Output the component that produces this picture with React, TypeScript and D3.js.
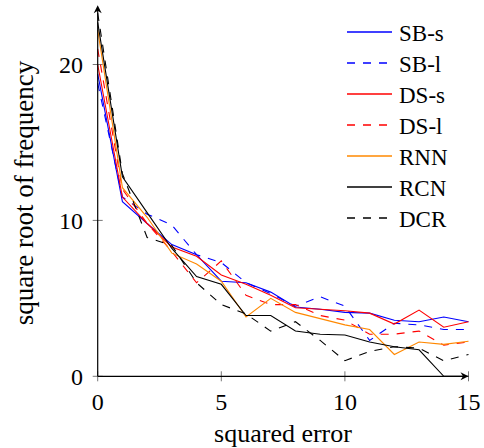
import React, { useEffect, useRef } from "react";
import * as d3 from "d3";

const xs = d3.range(0, 16);
const seriesNames = ["SB-s", "SB-l", "DS-s", "DS-l", "RNN", "RCN", "DCR"];
const sbS = [19.4, 11.2, 9.8, 8.45, 7.8, 6.1, 6.0, 5.4, 4.45, 4.3, 4.1, 4.05, 3.6, 3.5, 3.8, 3.5];
const sbL = [18.8, 11.5, 10.4, 9.7, 7.8, 7.3, 6.0, 5.3, 4.5, 5.1, 4.5, 2.3, 3.4, 3.3, 3.0, 3.0];
const dsS = [20.0, 11.5, 9.8, 8.3, 7.7, 6.5, 5.9, 5.2, 4.4, 4.3, 4.2, 4.05, 3.35, 4.25, 3.15, 3.5];
const dsL = [21.0, 12.0, 9.8, 8.0, 6.0, 7.4, 5.2, 4.6, 4.6, 3.9, 3.6, 2.7, 2.7, 2.9, 2.0, 2.2];
const rnn = [22.2, 12.1, 10.2, 7.9, 7.2, 6.1, 3.8, 5.0, 4.1, 3.7, 3.3, 3.0, 1.4, 2.2, 2.05, 2.25];
const rcn = [22.7, 12.8, 10.5, 8.2, 6.4, 5.9, 3.9, 3.9, 2.9, 2.7, 2.65, 2.2, 1.9, 1.7, 0, 0];
const dcr = [23.3, 13.0, 8.9, 8.4, 6.0, 4.6, 4.0, 2.9, 3.5, 2.3, 1.0, 1.6, 1.9, 1.8, 1.0, 1.4];
const xTicks = [0, 5, 10, 15];
const yTicks = [0, 10, 20];

const seriesValues = [sbS, sbL, dsS, dsL, rnn, rcn, dcr];
const colors = ["#0000ff", "#0000ff", "#ff0000", "#ff0000", "#ff8800", "#000000", "#000000"];
const dashed = [false, true, false, true, false, false, true];

const F = "Liberation Serif";

export default function App() {
  const ref = useRef<SVGSVGElement>(null);
  const W = 484, H = 448;
  const x = d3.scaleLinear().domain([0, 15]).range([97.7, 468.5]);
  const y = d3.scaleLinear().domain([0, 20]).range([376.3, 64.5]);
  const yTop = y(23.8);
  const line = d3
    .line<number>()
    .x((_, i) => x(xs[i]))
    .y((d) => y(d));

  useEffect(() => {
    if (!ref.current) return;
    d3.select(ref.current)
      .selectAll("text")
      .each(function () {
        (this as SVGTextElement).style.setProperty("font-family", F, "important");
      });
  }, []);

  const arrow = (tx: number, ty: number, dir: "right" | "up") => {
    if (dir === "right")
      return `M${tx},${ty} L${tx - 8},${ty - 4} L${tx - 5.5},${ty} L${tx - 8},${ty + 4} Z`;
    return `M${tx},${ty} L${tx - 4},${ty + 8} L${tx},${ty + 5.5} L${tx + 4},${ty + 8} Z`;
  };

  const legendY0 = 32;
  const legendStep = 31;

  return (
    <svg ref={ref} width={W} height={H} style={{ position: "absolute", left: 0, top: 0 }}>
      {xTicks.map((t) => (
        <line key={"xt" + t} x1={x(t)} x2={x(t)} y1={y(0) - 5} y2={y(0) + 5} stroke="#777" strokeWidth={1} />
      ))}
      {yTicks.map((t) => (
        <line key={"yt" + t} x1={x(0) - 5} x2={x(0) + 5} y1={y(t)} y2={y(t)} stroke="#777" strokeWidth={1} />
      ))}
      {seriesValues.map((vals, i) => (
        <path
          key={seriesNames[i]}
          d={line(vals) || ""}
          fill="none"
          stroke={colors[i]}
          strokeWidth={1.1}
          strokeDasharray={dashed[i] ? "8,8" : undefined}
        />
      ))}
      <line x1={x(0)} x2={x(15) - 4} y1={y(0)} y2={y(0)} stroke="#000" strokeWidth={1.2} />
      <line x1={x(0)} x2={x(0)} y1={y(0)} y2={yTop + 4} stroke="#000" strokeWidth={1.2} />
      <path d={arrow(x(15), y(0), "right")} fill="#000" />
      <path d={arrow(x(0), yTop, "up")} fill="#000" />
      {xTicks.map((t) => (
        <text key={"xl" + t} x={x(t)} y={410} fontSize={24} textAnchor="middle" fontFamily={F}>
          {String(t)}
        </text>
      ))}
      {yTicks.map((t) => (
        <text key={"yl" + t} x={83} y={y(t) + 8.5} fontSize={24} textAnchor="end" fontFamily={F}>
          {String(t)}
        </text>
      ))}
      <text x={283} y={441.5} fontSize={26} textAnchor="middle" fontFamily={F}>
        squared error
      </text>
      <text transform="translate(33,193) rotate(-90)" fontSize={27} textAnchor="middle" fontFamily={F}>
        square root of frequency
      </text>
      {seriesNames.map((name, i) => {
        const cy = legendY0 + i * legendStep;
        return (
          <g key={"lg" + name}>
            <line
              x1={347}
              x2={dashed[i] ? 388 : 392}
              y1={cy}
              y2={cy}
              stroke={colors[i]}
              strokeWidth={1.3}
              strokeDasharray={dashed[i] ? "8,8" : undefined}
            />
            <text x={399} y={cy + 8.5} fontSize={23} fontFamily={F}>
              {name}
            </text>
          </g>
        );
      })}
    </svg>
  );
}
